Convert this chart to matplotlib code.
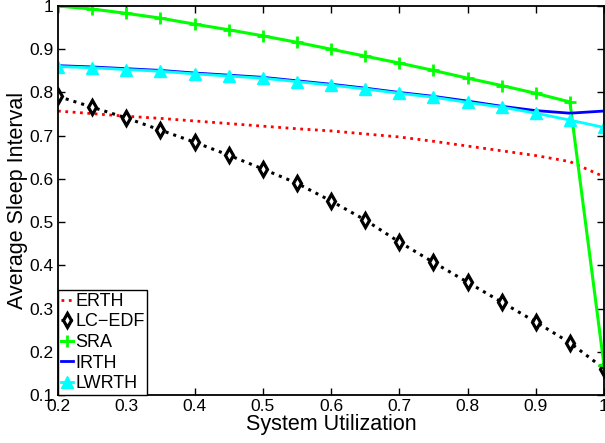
import matplotlib
matplotlib.use('Agg')
import matplotlib.pyplot as plt
import numpy as np

plt.rcParams.update({
    'font.family': ['Liberation Sans', 'DejaVu Sans'],
    'font.size': 12,
    'xtick.direction': 'in',
    'ytick.direction': 'in',
    'xtick.top': True,
    'ytick.right': True,
    'axes.linewidth': 1.3,
})

utilization = [0.2, 0.25, 0.3, 0.35, 0.4, 0.45, 0.5, 0.55, 0.6,
               0.65, 0.7, 0.75, 0.8, 0.85, 0.9, 0.95, 1.0]

erth = [0.757, 0.751, 0.745, 0.740, 0.734, 0.728, 0.722, 0.716, 0.711,
        0.704, 0.697, 0.687, 0.676, 0.665, 0.654, 0.640, 0.605]
lc_edf = [0.791, 0.766, 0.741, 0.713, 0.685, 0.655, 0.623, 0.590, 0.549,
          0.505, 0.454, 0.407, 0.361, 0.315, 0.269, 0.221, 0.161]
sra = [1.000, 0.993, 0.983, 0.972, 0.958, 0.945, 0.931, 0.916, 0.900,
       0.884, 0.868, 0.851, 0.833, 0.816, 0.798, 0.778, 0.169]
irth = [0.862, 0.859, 0.855, 0.851, 0.845, 0.840, 0.835, 0.827, 0.819,
        0.810, 0.800, 0.791, 0.780, 0.768, 0.758, 0.752, 0.757]
lwrth = [0.860, 0.857, 0.853, 0.849, 0.843, 0.838, 0.833, 0.825, 0.817,
         0.808, 0.798, 0.789, 0.777, 0.766, 0.752, 0.736, 0.719]

fig = plt.figure(figsize=(6.05, 4.43), dpi=100)
ax = fig.add_axes([58 / 605, 48 / 443, 546 / 605, 389 / 443])

ax.plot(utilization, erth, ':', color='red', linewidth=2, label='ERTH')
ax.plot(utilization, lc_edf, ':', color='black', linewidth=2.2, marker='d',
        markersize=7, markerfacecolor='white', markeredgecolor='black',
        markeredgewidth=2.3, label='LC\u2212EDF')
ax.plot(utilization, sra, '-', color='#00ff00', linewidth=2.2, marker='+',
        markersize=8, markeredgewidth=2, label='SRA')
ax.plot(utilization, irth, '-', color='blue', linewidth=2, label='IRTH')
ax.plot(utilization, lwrth, '-', color='cyan', linewidth=2, marker='^',
        markersize=9, label='LWRTH')

ax.set_xlim(0.2, 1.0)
ax.set_ylim(0.1, 1.0)
ax.set_xticks([0.2, 0.3, 0.4, 0.5, 0.6, 0.7, 0.8, 0.9, 1.0])
ax.set_xticklabels(['0.2', '0.3', '0.4', '0.5', '0.6', '0.7', '0.8', '0.9', '1'])
ax.set_yticks([0.1, 0.2, 0.3, 0.4, 0.5, 0.6, 0.7, 0.8, 0.9, 1.0])
ax.set_yticklabels(['0.1', '0.2', '0.3', '0.4', '0.5', '0.6', '0.7', '0.8', '0.9', '1'])
ax.tick_params(length=5, width=1, pad=3, labelsize=12.5)

ax.set_xlabel('System Utilization', fontsize=15.5, labelpad=0)
ax.set_ylabel('Average Sleep Interval', fontsize=15.5, labelpad=1)

leg = ax.legend(loc='lower left', fontsize=13, handlelength=0.7,
                handletextpad=0.1, borderpad=0.15, labelspacing=0.2,
                borderaxespad=0.0, fancybox=False, framealpha=1,
                edgecolor='black')
leg.get_frame().set_linewidth(1)

fig.savefig('out.png', dpi=100)
